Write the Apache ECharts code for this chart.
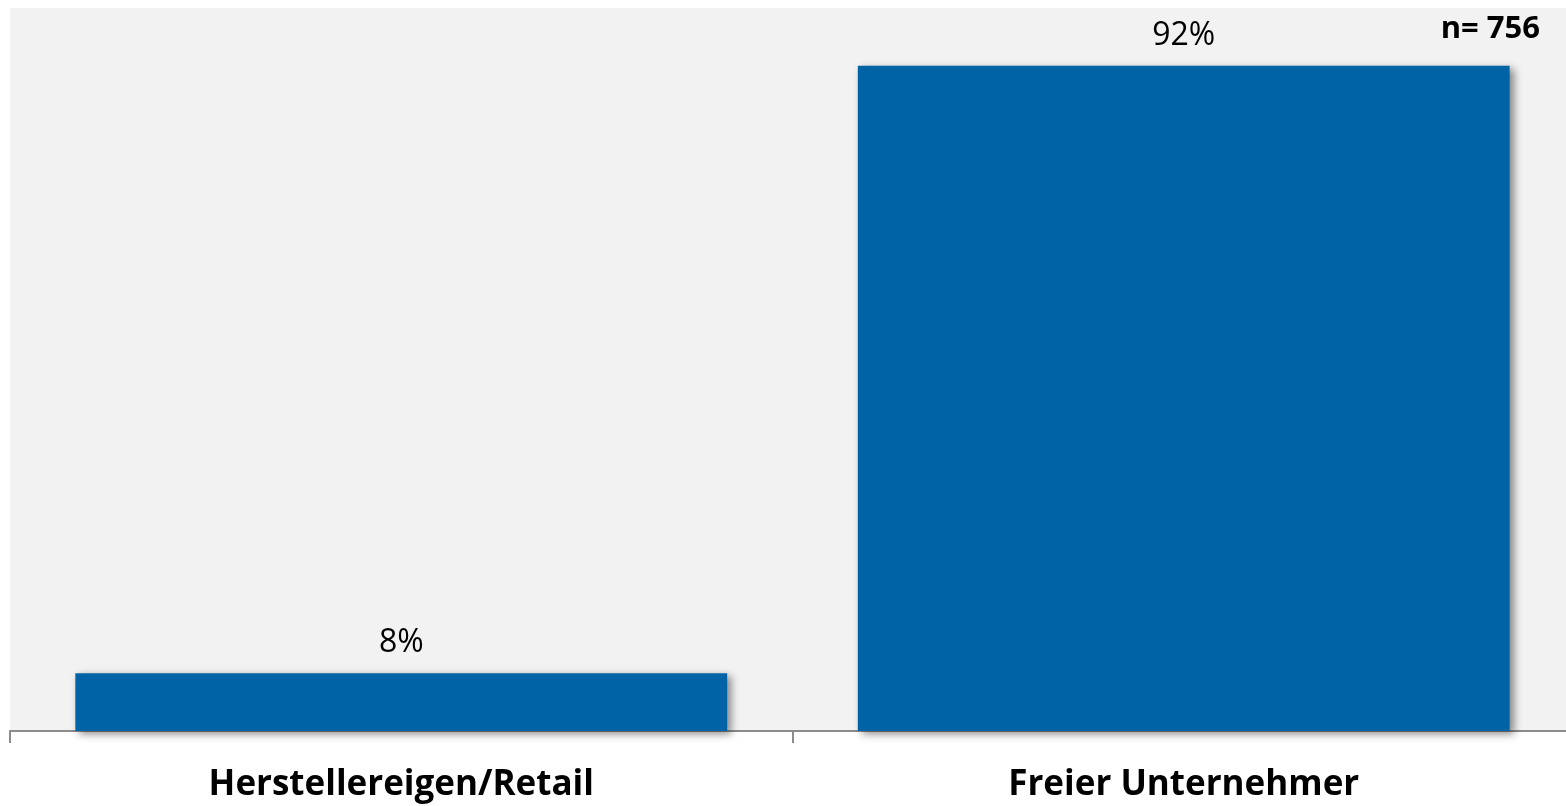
<!DOCTYPE html>
<html>
<head>
<meta charset="utf-8">
<script src="https://cdn.jsdelivr.net/npm/echarts@6/dist/echarts.min.js"></script>
<style>
  html, body { margin: 0; padding: 0; background: #fff; }
  #chart { width: 1566px; height: 806px; }
</style>
</head>
<body>
<div id="chart"></div>
<script>
// 数据
const categories = ['Herstellereigen/Retail', 'Freier Unternehmer'];
const shares = [8, 92];
const sampleNote = 'n= 756';

const chart = echarts.init(document.getElementById('chart'));

const option = {
  animation: false,
  graphic: [
    {
      type: 'text',
      right: 26,
      top: 14,
      style: {
        text: sampleNote,
        font: 'bold 31px "Open Sans", sans-serif',
        fill: '#000'
      }
    }
  ],
  grid: {
    top: 8,
    left: 10,
    width: 1565, // 右侧略超出画布
    height: 723,
    outerBoundsMode: 'none',
    show: true,
    backgroundColor: '#f2f2f2',
    borderWidth: 0
  },
  xAxis: {
    type: 'category',
    data: categories,
    axisLine: { lineStyle: { color: '#8c8c8c', width: 2 } },
    axisTick: { show: true, length: 12, lineStyle: { color: '#8c8c8c', width: 2 } },
    axisLabel: {
      margin: 37,
      color: '#000',
      fontSize: 35,
      fontWeight: 'bold',
      fontFamily: '"Open Sans", sans-serif'
    }
  },
  yAxis: {
    type: 'value',
    min: 0,
    max: 100,
    show: false,
    splitLine: { show: false }
  },
  series: [
    {
      type: 'bar',
      data: shares,
      barCategoryGap: '16.7%',
      itemStyle: {
        color: '#0063a6',
        shadowColor: 'rgba(0,0,0,0.45)',
        shadowBlur: 8,
        shadowOffsetX: 4,
        shadowOffsetY: 3
      },
      label: {
        show: true,
        position: 'top',
        distance: 14,
        formatter: '{c}%',
        color: '#000',
        fontSize: 32,
        fontFamily: '"Open Sans", sans-serif'
      }
    }
  ]
};

chart.setOption(option);
</script>
</body>
</html>
